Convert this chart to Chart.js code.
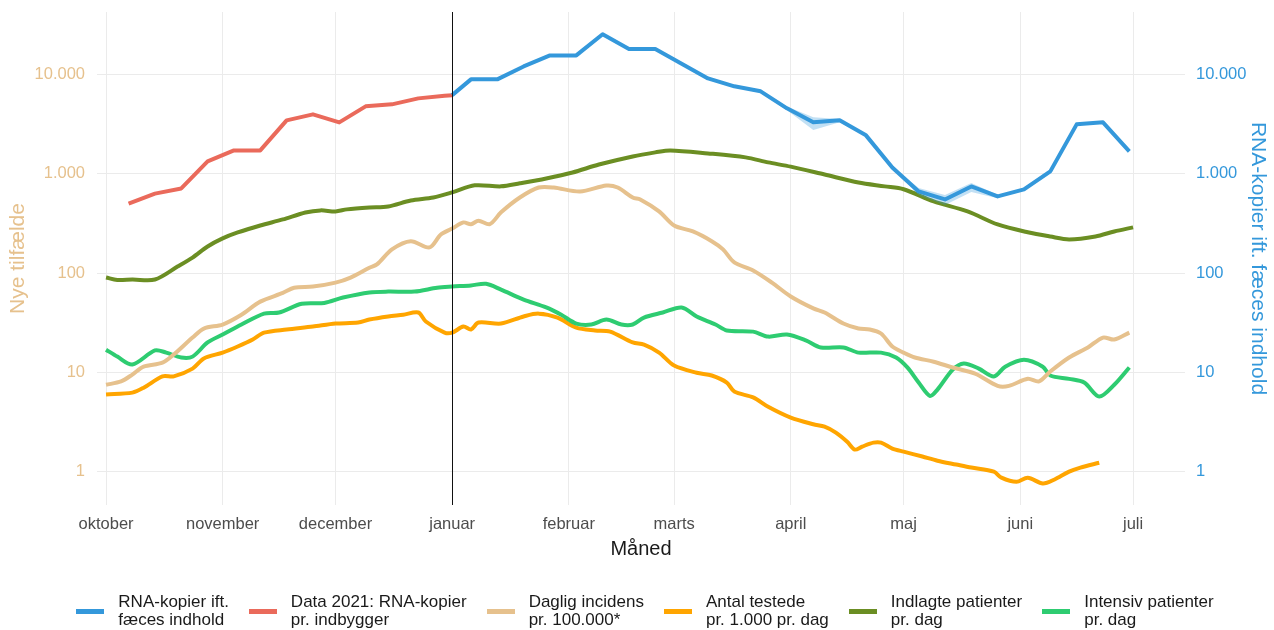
<!DOCTYPE html>
<html lang="da">
<head>
<meta charset="utf-8">
<script src="https://cdn.jsdelivr.net/npm/chart.js@4.4.1/dist/chart.umd.min.js"></script>
<style>
  body { margin: 0; background: #ffffff; font-family: "Liberation Sans", Arial, sans-serif; }
  #wrap { position: relative; width: 1274px; height: 630px; }
  #legend { position: absolute; left: 0; top: 593px; width: 1274px; box-sizing: border-box; padding-left: 16px; display: flex; justify-content: center; }
  .item { display: flex; align-items: center; margin: 0 10px; }
  .swatch { width: 28px; height: 5px; margin-right: 14px; }
  .label { font-size: 17px; line-height: 18px; color: #1a1a1a; }
</style>
</head>
<body>
<div id="wrap">
  <canvas id="covidchart" width="1274" height="630"></canvas>
  <div id="legend"></div>
</div>
<script>
'use strict';
//** Data */

// x values are days counted from 1. oktober 2020
let monthdays = [0, 31, 61, 92, 123, 151, 182, 212, 243, 273];
let monthnames = ['oktober', 'november', 'december', 'januar', 'februar', 'marts', 'april', 'maj', 'juni', 'juli'];
let januarday = 92;

let ytickvalues = [1, 10, 100, 1000, 10000];

// RNA-kopier ift. faeces indhold (weekly)
let rnadays = [92, 97, 104, 111, 118, 125, 132, 139, 146, 160, 167, 174, 181, 188, 195, 202, 209, 216, 223, 230, 237, 244, 251, 258, 265, 272];
let rnavalues = [6170, 8900, 8900, 12000, 15500, 15500, 25300, 18000, 18000, 9100, 7570, 6745, 4545, 3285, 3440, 2430, 1155, 662, 550, 744, 590, 694, 1054, 3135, 3285, 1675];

// uncertainty ribbon round the RNA line
let banddays = [174, 181, 188, 195, 202, 209, 216, 223, 230, 237];
let bandupper = [6900, 4750, 3700, 3550, 2500, 1190, 716, 610, 806, 615];
let bandlower = [6600, 4350, 2750, 3300, 2370, 1120, 610, 484, 653, 565];

// Data 2021: RNA-kopier pr. indbygger
let data2021days = [6, 13, 20, 27, 34, 41, 48, 55, 62, 69, 76, 83, 90, 92];
let data2021values = [500, 630, 710, 1330, 1715, 1715, 3440, 3955, 3280, 4760, 4985, 5725, 6100, 6170];

// Daglig incidens pr. 100.000
let incidensdays = [0, 4, 7, 10, 15, 18, 23, 26, 31, 36, 41, 47, 50, 55, 61, 65, 70, 72, 76, 81, 86, 89, 92, 95, 97, 99, 102, 105, 110, 115, 119, 126, 133, 136, 140, 142, 147, 151, 156, 161, 164, 167, 172, 177, 182, 188, 191, 196, 200, 203, 206, 209, 212, 215, 220, 225, 231, 237, 240, 245, 248, 251, 256, 261, 265, 268, 272];
let incidensvalues = [7.5, 8.1, 9.5, 11.4, 12.5, 15.1, 22.4, 27.6, 30.3, 38, 51.5, 63, 71, 73, 80, 90, 113, 122, 173, 209, 181, 244, 280, 323, 310, 336, 310, 408, 575, 725, 725, 660, 760, 725, 575, 550, 417, 301, 262, 209, 173, 128, 106, 80, 58, 44, 40, 31, 27.6, 27, 24.6, 18.2, 15.8, 14.1, 12.8, 11.2, 9.7, 7.3, 7.3, 8.6, 8.1, 10.2, 14.1, 17.8, 22.4, 21.4, 25.1];

// Antal testede pr. 1.000 pr. dag
let testededays = [0, 7, 10, 15, 18, 23, 26, 31, 35, 39, 42, 48, 55, 61, 67, 70, 75, 79, 83, 85, 90, 92, 95, 97, 99, 105, 111, 115, 120, 125, 130, 134, 140, 143, 147, 151, 157, 161, 165, 167, 172, 176, 182, 188, 191, 194, 197, 199, 201, 204, 206, 209, 212, 217, 221, 226, 230, 236, 238, 242, 245, 249, 252, 256, 259, 264];
let testedevalues = [6, 6.25, 7, 9.1, 9.1, 10.9, 13.8, 15.8, 18.2, 21.4, 25.1, 27, 28.9, 31, 31.7, 34, 36.5, 38, 40, 32.5, 25.1, 25.1, 28.9, 27, 31.7, 31, 36.5, 39, 35.6, 28.2, 26.4, 25.7, 20, 19, 15.8, 11.7, 9.9, 9.3, 7.9, 6.4, 5.6, 4.5, 3.5, 3.0, 2.84, 2.47, 2.0, 1.67, 1.79, 1.96, 1.96, 1.71, 1.59, 1.42, 1.29, 1.18, 1.10, 1.0, 0.87, 0.79, 0.87, 0.76, 0.83, 1.0, 1.10, 1.23];

// Indlagte patienter pr. dag
let indlagtedays = [0, 3, 7, 13, 19, 23, 27, 31, 35, 41, 47, 53, 57, 61, 64, 70, 75, 81, 87, 92, 98, 105, 110, 117, 124, 131, 140, 146, 150, 160, 170, 176, 182, 191, 200, 207, 212, 220, 229, 237, 245, 251, 256, 263, 268, 273];
let indlagtevalues = [90, 85, 86, 86, 116, 143, 185, 223, 256, 301, 346, 407, 427, 417, 437, 457, 468, 537, 575, 647, 763, 745, 800, 895, 1027, 1235, 1490, 1637, 1715, 1600, 1458, 1298, 1176, 980, 815, 745, 697, 527, 417, 308, 257, 233, 218, 233, 262, 288];

// Intensiv patienter pr. dag
let intensivdays = [0, 3, 7, 13, 16, 20, 23, 27, 31, 36, 42, 46, 52, 58, 63, 70, 75, 82, 88, 92, 97, 101, 105, 111, 117, 121, 125, 129, 133, 137, 140, 143, 148, 153, 157, 162, 165, 172, 176, 181, 186, 190, 196, 200, 206, 210, 213, 216, 219, 221, 225, 228, 232, 236, 239, 244, 249, 251, 256, 260, 264, 268, 272];
let intensivvalues = [16.9, 14.4, 12, 16.6, 15.8, 14.1, 14.4, 20, 24, 30.3, 39, 40, 49, 50, 56.6, 63.7, 65, 65, 71, 73, 75, 78, 68, 54, 45, 38, 31, 30.3, 34, 30.3, 30.3, 35.6, 40, 45, 36.5, 30.3, 26.4, 25.7, 22.9, 24, 21, 17.8, 17.8, 15.8, 15.8, 14.1, 11.2, 7.9, 5.8, 6.7, 10.6, 12.3, 10.9, 9.1, 11.4, 13.4, 11.4, 9.3, 8.6, 7.9, 5.7, 7.5, 11.2];

//** Axis limits */
let xmin = -2.4;
let xmax = 286.8;
let ymin = 0.462;
let ymax = 42400;

//** Colours */
let bluecolor = '#3498DB';
let redcolor = '#EA6A5B';
let tancolor = '#E6C18D';
let orangecolor = '#FFA500';
let olivecolor = '#6B8E23';
let greencolor = '#2ECC71';
let gridcolor = '#EBEBEB';
let fontfamily = '"Liberation Sans", Arial, sans-serif';

//** Helpers */

function topoints(days, values){
  let points = [];
  for (let i = 0; i < days.length; i++){
    points.push({x: days[i], y: values[i]});
  }
  return points;
}

function danishnumber(value){
  return String(value).replace(/\B(?=(\d{3})+(?!\d))/g, '.');
}

function linedataset(label, days, values, color, axis, tension){
  return {
    label: label,
    data: topoints(days, values),
    borderColor: color,
    backgroundColor: color,
    borderWidth: 4,
    pointRadius: 0,
    tension: tension,
    borderJoinStyle: 'round',
    yAxisID: axis,
    fill: false
  };
}

// keep the tick labels from pushing the plot area down
function fixvertical(width){
  return function(scale){
    scale.width = width;
    scale.paddingTop = 0;
    scale.paddingBottom = 0;
  };
}

//** Legend (two line labels) */

let legenditems = [
  {text: ['RNA-kopier ift.', 'fæces indhold'], color: bluecolor},
  {text: ['Data 2021: RNA-kopier', 'pr. indbygger'], color: redcolor},
  {text: ['Daglig incidens', 'pr. 100.000*'], color: tancolor},
  {text: ['Antal testede', 'pr. 1.000 pr. dag'], color: orangecolor},
  {text: ['Indlagte patienter', 'pr. dag'], color: olivecolor},
  {text: ['Intensiv patienter', 'pr. dag'], color: greencolor}
];

let legendbox = document.getElementById('legend');
for (let i = 0; i < legenditems.length; i++){
  let item = document.createElement('div');
  item.className = 'item';
  let swatch = document.createElement('div');
  swatch.className = 'swatch';
  swatch.style.background = legenditems[i].color;
  let label = document.createElement('div');
  label.className = 'label';
  label.innerHTML = legenditems[i].text.join('<br>');
  item.appendChild(swatch);
  item.appendChild(label);
  legendbox.appendChild(item);
}

//** Januar line plugin */

let januarline = {
  id: 'januarline',
  afterDatasetsDraw(chart){
    let ctx = chart.ctx;
    let xpos = Math.round(chart.scales.x.getPixelForValue(januarday)) + 0.5;
    ctx.save();
    ctx.strokeStyle = '#111111';
    ctx.lineWidth = 1;
    ctx.beginPath();
    ctx.moveTo(xpos, chart.chartArea.top);
    ctx.lineTo(xpos, chart.chartArea.bottom);
    ctx.stroke();
    ctx.restore();
  }
};

//** Chart */

let ctx = document.getElementById('covidchart');

let chartObj = {
  type: 'line',
  data: {
    datasets: [
      linedataset('RNA-kopier ift. fæces indhold', rnadays, rnavalues, bluecolor, 'y2', 0),
      {
        label: 'band upper',
        data: topoints(banddays, bandupper),
        borderWidth: 0,
        pointRadius: 0,
        backgroundColor: 'rgba(52, 152, 219, 0.3)',
        fill: '+1',
        yAxisID: 'y2'
      },
      {
        label: 'band lower',
        data: topoints(banddays, bandlower),
        borderWidth: 0,
        pointRadius: 0,
        fill: false,
        yAxisID: 'y2'
      },
      linedataset('Data 2021: RNA-kopier pr. indbygger', data2021days, data2021values, redcolor, 'y2', 0),
      linedataset('Indlagte patienter pr. dag', indlagtedays, indlagtevalues, olivecolor, 'y', 0.3),
      linedataset('Daglig incidens pr. 100.000*', incidensdays, incidensvalues, tancolor, 'y', 0.3),
      linedataset('Intensiv patienter pr. dag', intensivdays, intensivvalues, greencolor, 'y', 0.3),
      linedataset('Antal testede pr. 1.000 pr. dag', testededays, testedevalues, orangecolor, 'y', 0.3)
    ]
  },
  options: {
    responsive: false,
    animation: false,
    devicePixelRatio: 1,
    layout: {padding: {top: 12, bottom: 65, left: 0, right: 0}},
    plugins: {
      legend: {display: false},
      tooltip: {enabled: false}
    },
    scales: {
      x: {
        type: 'linear',
        min: xmin,
        max: xmax,
        border: {display: false},
        grid: {color: gridcolor, lineWidth: 1, drawTicks: false},
        afterBuildTicks: function(scale){
          scale.ticks = monthdays.map(function(d){ return {value: d}; });
        },
        afterFit: function(scale){
          scale.height = 60;
        },
        ticks: {
          autoSkip: false,
          maxRotation: 0,
          padding: 10,
          color: '#4D4D4D',
          font: {family: fontfamily, size: 16.5},
          callback: function(value){
            let idx = monthdays.indexOf(value);
            return idx >= 0 ? monthnames[idx] : '';
          }
        },
        title: {
          display: true,
          text: 'Måned',
          color: '#1a1a1a',
          font: {family: fontfamily, size: 20},
          padding: {top: 0, bottom: 4}
        }
      },
      y: {
        type: 'logarithmic',
        position: 'left',
        min: ymin,
        max: ymax,
        border: {display: false},
        grid: {color: gridcolor, lineWidth: 1, drawTicks: false},
        afterBuildTicks: function(scale){
          scale.ticks = ytickvalues.map(function(v){ return {value: v}; });
        },
        afterFit: fixvertical(97),
        ticks: {
          padding: 12,
          color: tancolor,
          font: {family: fontfamily, size: 16.5},
          callback: function(value){ return danishnumber(value); }
        },
        title: {
          display: true,
          text: 'Nye tilfælde',
          color: tancolor,
          font: {family: fontfamily, size: 21},
          padding: {top: 6, bottom: 0}
        }
      },
      y2: {
        type: 'logarithmic',
        position: 'right',
        min: ymin,
        max: ymax,
        border: {display: false},
        grid: {display: false, drawTicks: false},
        afterBuildTicks: function(scale){
          scale.ticks = ytickvalues.map(function(v){ return {value: v}; });
        },
        afterFit: fixvertical(89),
        ticks: {
          padding: 11,
          color: bluecolor,
          font: {family: fontfamily, size: 16.5},
          callback: function(value){ return danishnumber(value); }
        },
        title: {
          display: true,
          text: 'RNA-kopier ift. fæces indhold',
          color: bluecolor,
          font: {family: fontfamily, size: 21},
          padding: {top: 4, bottom: 0}
        }
      }
    }
  },
  plugins: [januarline]
};

let covidchart = new Chart(ctx, chartObj);
</script>
</body>
</html>
